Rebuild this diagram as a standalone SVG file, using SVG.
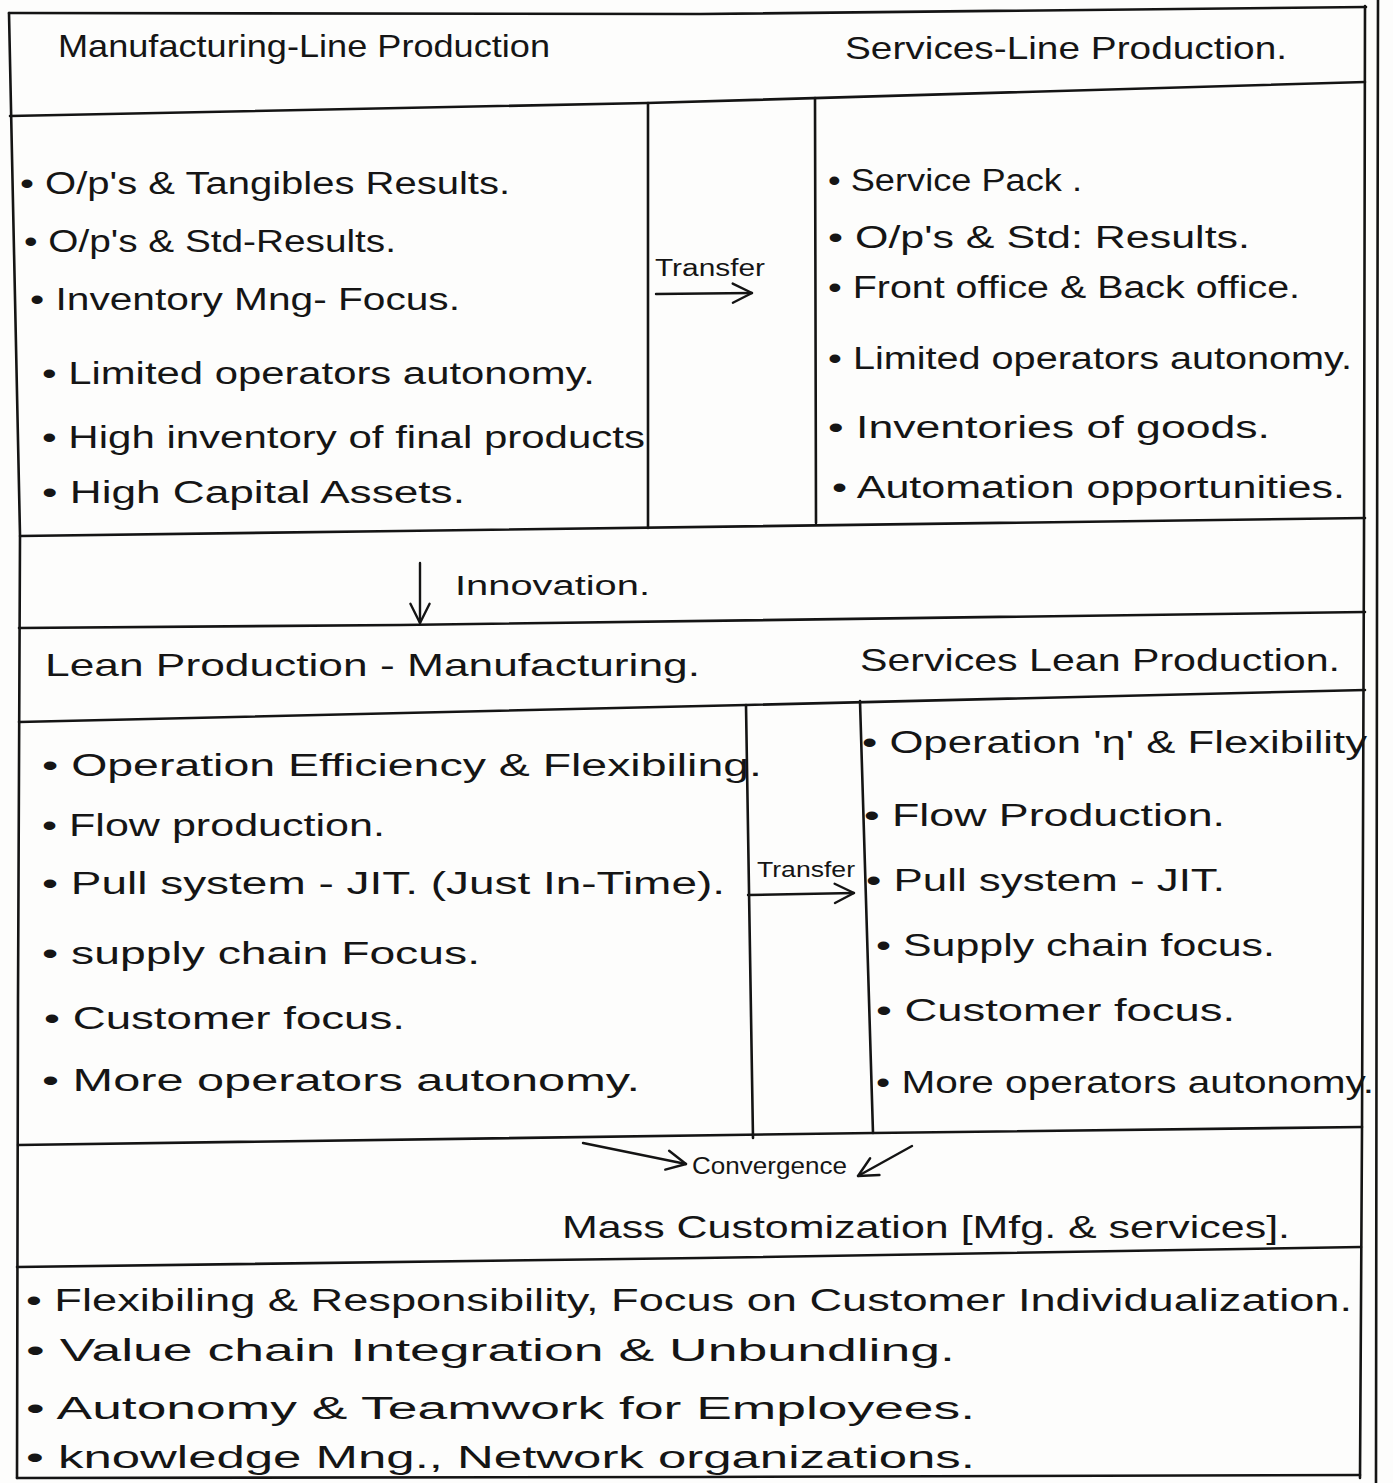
<svg xmlns="http://www.w3.org/2000/svg" width="1393" height="1483" viewBox="0 0 1393 1483">
  <style>
    .ink { stroke: #141414; stroke-width: 2.6; fill: none; stroke-linecap: round; }
    .arrow { stroke: #141414; stroke-width: 2.4; fill: none; stroke-linecap: round; }
    text { font-family: "Liberation Sans", "DejaVu Sans", sans-serif; fill: #151515; }
    .h { font-size: 32px; }
    .b { font-size: 31px; }
    .s { font-size: 22px; }
  </style>
  <defs>
    <marker id="open" viewBox="0 0 20 20" refX="18" refY="10" markerWidth="24" markerHeight="24" markerUnits="userSpaceOnUse" orient="auto">
      <path d="M2,2 L18,10 L2,18" fill="none" stroke="#141414" stroke-width="2" stroke-linecap="round" stroke-linejoin="round"/>
    </marker>
  </defs>

  <rect width="1393" height="1483" fill="#fdfdfc"/>

  <!-- table ruling -->
  <g id="grid">
    <!-- outer frame -->
    <polyline class="ink" points="9,13 700,14 1366,7"/>
    <polyline class="ink" points="9,13 20,535 18,1000 17,1478"/>
    <polyline class="ink" points="1365,6 1364,540 1362,1130 1360,1478"/>
    <polyline class="ink" points="1378,0 1377,600 1376,1483"/>
    <polyline class="ink" points="17,1478 700,1477 1360,1475"/>
    <!-- line production block -->
    <polyline class="ink" points="10,116 647,103 1365,82"/>
    <line class="ink" x1="648" y1="103" x2="648" y2="528"/>
    <line class="ink" x1="815" y1="98" x2="816" y2="523"/>
    <polyline class="ink" points="20,536 400,531 1365,518"/>
    <!-- innovation strip -->
    <polyline class="ink" points="19,628 400,625 1365,612"/>
    <!-- lean block -->
    <polyline class="ink" points="19,722 746,705 1365,690"/>
    <line class="ink" x1="746" y1="705" x2="753" y2="1138"/>
    <line class="ink" x1="860" y1="701" x2="873" y2="1133"/>
    <polyline class="ink" points="18,1145 873,1133 1362,1127"/>
    <!-- mass customization -->
    <polyline class="ink" points="17,1267 700,1258 1361,1247"/>
  </g>

  <g id="mfg-line-header">
    <text class="h" x="58" y="57" textLength="492" lengthAdjust="spacingAndGlyphs">Manufacturing-Line Production</text>
  </g>
  <g id="svc-line-header">
    <text class="h" x="845" y="59" textLength="442" lengthAdjust="spacingAndGlyphs">Services-Line Production.</text>
  </g>

  <g id="mfg-line-points" class="b">
    <text x="20" y="194" textLength="490" lengthAdjust="spacingAndGlyphs">• O/p's &amp; Tangibles Results.</text>
    <text x="24" y="252" textLength="372" lengthAdjust="spacingAndGlyphs">• O/p's &amp; Std-Results.</text>
    <text x="30" y="310" textLength="430" lengthAdjust="spacingAndGlyphs">• Inventory Mng- Focus.</text>
    <text x="42" y="384" textLength="553" lengthAdjust="spacingAndGlyphs">• Limited operators autonomy.</text>
    <text x="42" y="448" textLength="603" lengthAdjust="spacingAndGlyphs">• High inventory of final products</text>
    <text x="42" y="503" textLength="423" lengthAdjust="spacingAndGlyphs">• High Capital Assets.</text>
  </g>

  <g id="svc-line-points" class="b">
    <text x="828" y="191" textLength="254" lengthAdjust="spacingAndGlyphs">• Service Pack .</text>
    <text x="828" y="248" textLength="422" lengthAdjust="spacingAndGlyphs">• O/p's &amp; Std: Results.</text>
    <text x="828" y="298" textLength="472" lengthAdjust="spacingAndGlyphs">• Front office &amp; Back office.</text>
    <text x="828" y="369" textLength="524" lengthAdjust="spacingAndGlyphs">• Limited operators autonomy.</text>
    <text x="828" y="438" textLength="442" lengthAdjust="spacingAndGlyphs">• Inventories of goods.</text>
    <text x="832" y="498" textLength="513" lengthAdjust="spacingAndGlyphs">• Automation opportunities.</text>
  </g>

  <g id="transfer-1">
    <text x="655" y="276" style="font-size:23px" textLength="110" lengthAdjust="spacingAndGlyphs">Transfer</text>
  </g>

  <g id="innovation">
    <text x="455" y="595" style="font-size:27px" textLength="195" lengthAdjust="spacingAndGlyphs">Innovation.</text>
  </g>

  <g id="mfg-lean-header">
    <text class="h" x="45" y="676" textLength="655" lengthAdjust="spacingAndGlyphs">Lean Production - Manufacturing.</text>
  </g>
  <g id="svc-lean-header">
    <text class="h" x="860" y="671" textLength="480" lengthAdjust="spacingAndGlyphs">Services Lean Production.</text>
  </g>

  <g id="mfg-lean-points" class="b">
    <text x="42" y="776" textLength="720" lengthAdjust="spacingAndGlyphs">• Operation Efficiency &amp; Flexibiling.</text>
    <text x="42" y="836" textLength="343" lengthAdjust="spacingAndGlyphs">• Flow production.</text>
    <text x="42" y="894" textLength="683" lengthAdjust="spacingAndGlyphs">• Pull system - JIT. (Just In-Time).</text>
    <text x="42" y="964" textLength="438" lengthAdjust="spacingAndGlyphs">• supply chain Focus.</text>
    <text x="44" y="1029" textLength="361" lengthAdjust="spacingAndGlyphs">• Customer focus.</text>
    <text x="42" y="1091" textLength="598" lengthAdjust="spacingAndGlyphs">• More operators autonomy.</text>
  </g>

  <g id="svc-lean-points" class="b">
    <text x="862" y="753" textLength="505" lengthAdjust="spacingAndGlyphs">• Operation 'η' &amp; Flexibility</text>
    <text x="864" y="826" textLength="361" lengthAdjust="spacingAndGlyphs">• Flow Production.</text>
    <text x="866" y="891" textLength="359" lengthAdjust="spacingAndGlyphs">• Pull system - JIT.</text>
    <text x="876" y="956" textLength="399" lengthAdjust="spacingAndGlyphs">• Supply chain focus.</text>
    <text x="876" y="1021" textLength="359" lengthAdjust="spacingAndGlyphs">• Customer focus.</text>
    <text x="876" y="1093" textLength="498" lengthAdjust="spacingAndGlyphs">• More operators autonomy.</text>
  </g>

  <g id="transfer-2">
    <text x="757" y="877" style="font-size:22px" textLength="98" lengthAdjust="spacingAndGlyphs">Transfer</text>
  </g>

  <g id="convergence">
    <text x="692" y="1174" style="font-size:23px" textLength="155" lengthAdjust="spacingAndGlyphs">Convergence</text>
  </g>

  <g id="mass-customization">
    <text class="h" x="562" y="1238" textLength="728" lengthAdjust="spacingAndGlyphs">Mass Customization [Mfg. &amp; services].</text>
  </g>

  <g id="mass-customization-points" class="b">
    <text x="26" y="1311" textLength="1326" lengthAdjust="spacingAndGlyphs">• Flexibiling &amp; Responsibility, Focus on Customer Individualization.</text>
    <text x="26" y="1361" textLength="929" lengthAdjust="spacingAndGlyphs">• Value chain Integration &amp; Unbundling.</text>
    <text x="26" y="1419" textLength="949" lengthAdjust="spacingAndGlyphs">• Autonomy &amp; Teamwork for Employees.</text>
    <text x="26" y="1468" textLength="949" lengthAdjust="spacingAndGlyphs">• knowledge Mng., Network organizations.</text>
  </g>

  <!-- arrows between stages -->
  <g id="connectors">
    <line class="arrow" x1="656" y1="294" x2="752" y2="293" marker-end="url(#open)"/>
    <line class="arrow" x1="420" y1="563" x2="420" y2="623" marker-end="url(#open)"/>
    <line class="arrow" x1="748" y1="895" x2="854" y2="893" marker-end="url(#open)"/>
    <line class="arrow" x1="583" y1="1143" x2="686" y2="1164" marker-end="url(#open)"/>
    <line class="arrow" x1="912" y1="1146" x2="858" y2="1176" marker-end="url(#open)"/>
  </g>
</svg>
